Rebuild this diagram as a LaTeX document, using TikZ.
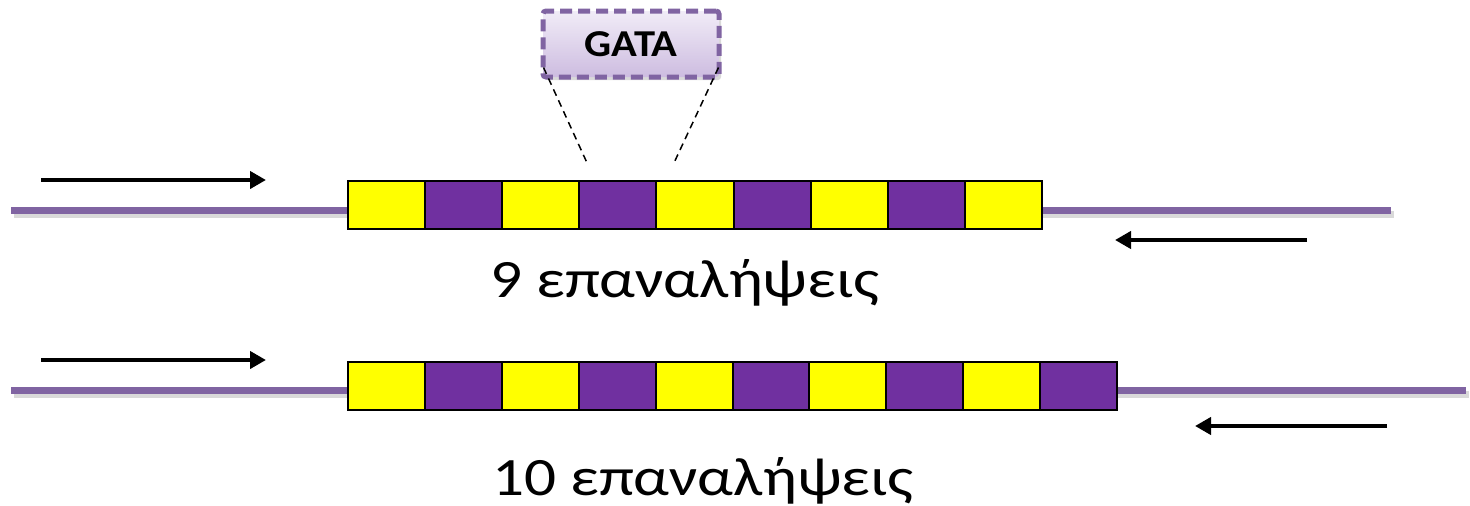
\documentclass[tikz,border=0pt]{standalone}
\usepackage{fontspec}
\setmainfont{Carlito}
\newfontfamily\lblfont{Carlito}[FakeStretch=1.17]
\newfontfamily\gatafont{Carlito}[FakeStretch=1.12]
\usetikzlibrary{arrows.meta,shadows,calc}
\definecolor{dnaline}{HTML}{8064A2}
\definecolor{rpurple}{HTML}{7030A0}
\definecolor{ryellow}{HTML}{FFFF00}
\definecolor{boxtop}{HTML}{F1ECF7}
\definecolor{boxbot}{HTML}{CDBCE0}
\tikzset{
  dna/.style={draw=dnaline,line width=7pt,line cap=butt},
  dnashadow/.style={draw=black!15,line width=7pt},
  cellY/.style={draw=black,line width=2pt,fill=ryellow,minimum width=77pt,minimum height=48pt,inner sep=0pt,anchor=north west},
  cellP/.style={cellY,fill=rpurple},
  primer/.style={draw=black,line width=4.5pt,-{Triangle[length=16pt,width=17pt]}},
  zoomline/.style={draw=black,line width=1.5pt,dash pattern=on 7pt off 5pt},
  label/.style={font=\lblfont\fontsize{54}{60}\selectfont,inner sep=0pt}
}
\begin{document}
\begin{tikzpicture}[x=1pt,y=-1pt]
\useasboundingbox (0,0) rectangle (1470,506);
% row 1 DNA line
\coordinate (l1a) at (11,210);
\coordinate (l1b) at (1391,210);
\draw[dnashadow] ($(l1a)+(3,4)$) -- ($(l1b)+(3,4)$);
\draw[dna] (l1a) -- (l1b);
% row 2 DNA line
\coordinate (l2a) at (11,390);
\coordinate (l2b) at (1466,390);
\draw[dnashadow] ($(l2a)+(3,4)$) -- ($(l2b)+(3,4)$);
\draw[dna] (l2a) -- (l2b);
% row 1 cells
\foreach \i in {0,...,8}{
  \pgfmathtruncatemacro{\odd}{mod(\i,2)}
  \ifnum\odd=0
    \node[cellY,minimum width=77.1pt] (a\i) at ({347+77.1*\i},180) {};
  \else
    \node[cellP,minimum width=77.1pt] (a\i) at ({347+77.1*\i},180) {};
  \fi
}
% row 2 cells
\foreach \i in {0,...,9}{
  \pgfmathtruncatemacro{\odd}{mod(\i,2)}
  \ifnum\odd=0
    \node[cellY,minimum width=76.9pt] (b\i) at ({347+76.9*\i},361) {};
  \else
    \node[cellP,minimum width=76.9pt] (b\i) at ({347+76.9*\i},361) {};
  \fi
}
% primers
\coordinate (p1s) at (41,180); \coordinate (p1e) at (266,180);
\coordinate (p2s) at (1307,240); \coordinate (p2e) at (1115,240);
\coordinate (p3s) at (41,360); \coordinate (p3e) at (266,360);
\coordinate (p4s) at (1387,426); \coordinate (p4e) at (1195,426);
\draw[primer] (p1s) -- (p1e);
\draw[primer] (p2s) -- (p2e);
\draw[primer] (p3s) -- (p3e);
\draw[primer] (p4s) -- (p4e);
% labels
\node[label,anchor=base] (t1) at (685,297) {9 επαναλήψεις};
\node[label,anchor=base] (t2) at (703,495) {10 επαναλήψεις};
% GATA box
\node[draw=dnaline,line width=5pt,dash pattern=on 12pt off 6pt,rounded corners=3pt,
      top color=boxtop,bottom color=boxbot,minimum width=176pt,minimum height=66pt,
      drop shadow={shadow xshift=2pt,shadow yshift=-3pt,opacity=0.3},
      font=\gatafont\fontsize{38}{44}\selectfont\bfseries,inner sep=0pt] (gata) at (631,44) {GATA};
\coordinate (z1) at (588,165);
\coordinate (z2) at (673,165);
\draw[zoomline] ($(gata.south west)+(3,-12)$) -- (z1);
\draw[zoomline] ($(gata.south east)+(-3,-12)$) -- (z2);
\end{tikzpicture}
\end{document}
